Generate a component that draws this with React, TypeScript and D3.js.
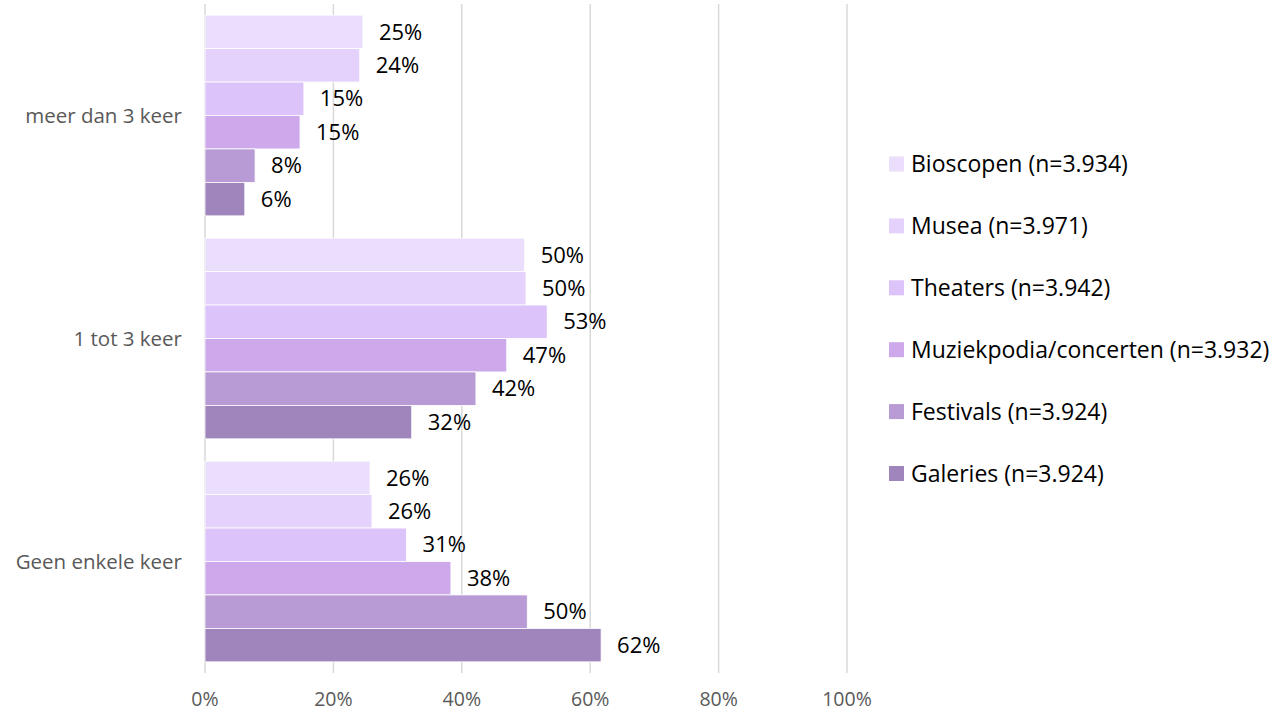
import { useEffect, useRef } from 'react';
import * as d3 from 'd3';

const categories = ['meer dan 3 keer', '1 tot 3 keer', 'Geen enkele keer'];
const seriesNames = [
  'Bioscopen (n=3.934)',
  'Musea (n=3.971)',
  'Theaters (n=3.942)',
  'Muziekpodia/concerten (n=3.932)',
  'Festivals (n=3.924)',
  'Galeries (n=3.924)',
];
const seriesColors = ['#EBDDFC', '#E4D1FC', '#DCC3FA', '#CDA9EB', '#B89AD4', '#A084BC'];
// values per series, in category order
const bioscopen = [24.6, 49.8, 25.7];
const musea = [24.1, 50.0, 26.0];
const theaters = [15.4, 53.3, 31.4];
const muziek = [14.8, 47.0, 38.3];
const festivals = [7.8, 42.2, 50.2];
const galeries = [6.2, 32.2, 61.7];
const seriesValues = [bioscopen, musea, theaters, muziek, festivals, galeries];
const xTicks = [0, 20, 40, 60, 80, 100];

const FONT = '"Open Sans", sans-serif';

export default function App() {
  const ref = useRef<SVGSVGElement>(null);

  useEffect(() => {
    const svg = d3.select(ref.current);
    svg.selectAll('*').remove();

    const left = 205, right = 847, top = 4, bottom = 673;
    const x = d3.scaleLinear().domain([0, 100]).range([left, right]);
    const y = d3.scaleBand().domain(categories).range([top, bottom]).paddingInner(0.1).paddingOuter(0.05);
    const ySub = d3.scaleBand().domain(seriesNames).range([0, y.bandwidth()]);

    // grid
    svg.append('g')
      .selectAll('line')
      .data(xTicks)
      .join('line')
      .attr('x1', d => x(d)).attr('x2', d => x(d))
      .attr('y1', top).attr('y2', bottom)
      .attr('stroke', '#d9d9d9')
      .attr('stroke-width', 1.5);

    // x tick labels
    svg.append('g')
      .selectAll('text')
      .data(xTicks)
      .join('text')
      .attr('x', d => x(d))
      .attr('y', 706)
      .attr('text-anchor', 'middle')
      .attr('font-family', FONT)
      .attr('font-size', 19.5)
      .attr('fill', '#595959')
      .text(d => d + '%');

    // category labels
    svg.append('g')
      .selectAll('text')
      .data(categories)
      .join('text')
      .attr('x', 182)
      .attr('y', d => y(d)! + y.bandwidth() / 2)
      .attr('dy', '0.35em')
      .attr('text-anchor', 'end')
      .attr('font-family', FONT)
      .attr('font-size', 20.5)
      .attr('fill', '#595959')
      .text(d => d);

    // bars
    seriesNames.forEach((s, si) => {
      const g = svg.append('g');
      const rows = categories.map((c, ci) => ({ c, v: seriesValues[si][ci] }));
      g.selectAll('rect')
        .data(rows)
        .join('rect')
        .attr('x', x(0))
        .attr('y', d => y(d.c)! + ySub(s)!)
        .attr('width', d => x(d.v) - x(0))
        .attr('height', ySub.bandwidth())
        .attr('fill', seriesColors[si])
        .attr('stroke', '#fff')
        .attr('stroke-width', 0.8);
      g.selectAll('text')
        .data(rows)
        .join('text')
        .attr('x', d => x(d.v) + 16)
        .attr('y', d => y(d.c)! + ySub(s)! + ySub.bandwidth() / 2)
        .attr('dy', '0.35em')
        .attr('font-family', FONT)
        .attr('font-size', 22)
        .attr('fill', '#000')
        .text(d => Math.round(d.v) + '%');
    });

    // legend
    const legend = svg.append('g')
      .selectAll('g')
      .data(seriesNames)
      .join('g')
      .attr('transform', (_, i) => `translate(889, ${164 + i * 61.9})`);
    legend.append('rect')
      .attr('x', 0).attr('y', -7.5)
      .attr('width', 15).attr('height', 15)
      .attr('fill', (_, i) => seriesColors[i]);
    legend.append('text')
      .attr('x', 22)
      .attr('dy', '0.35em')
      .attr('font-family', FONT)
      .attr('font-size', 23)
      .attr('fill', '#000')
      .text(d => d);
  }, []);

  return <svg ref={ref} width={1284} height={714} style={{ position: 'absolute', left: 0, top: 0 }} />;
}
